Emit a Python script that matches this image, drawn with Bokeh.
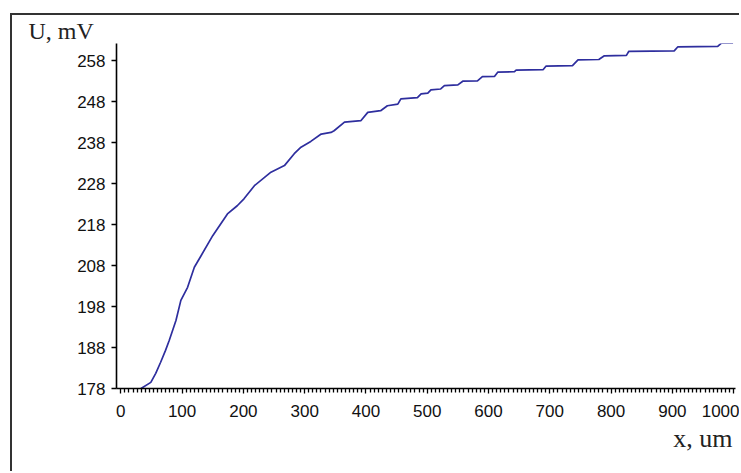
from bokeh.plotting import figure
from bokeh.models import FixedTicker, Range1d, Title
from bokeh.embed import file_html
from bokeh.resources import INLINE

x_um = [33, 49, 57, 65, 73, 79, 90, 98, 109, 120, 131, 150, 174, 190, 201, 218, 245, 267,
        283, 294, 310, 327, 343, 348, 365, 392, 403, 424, 435, 452, 457, 484, 490, 501, 506,
        522, 528, 550, 558, 582, 590, 610, 615, 642, 645, 689, 694, 737, 746, 780, 789, 825,
        829, 903, 909, 974, 980, 999]
u_mv = [178.0, 179.5, 181.7, 184.4, 187.3, 189.7, 194.6, 199.5, 202.7, 207.6, 210.4, 215.3,
        220.6, 222.6, 224.3, 227.5, 230.8, 232.4, 235.3, 236.9, 238.3, 240.1, 240.5, 240.9,
        243.0, 243.4, 245.4, 245.8, 247.0, 247.4, 248.7, 249.0, 249.9, 250.1, 250.9, 251.1,
        251.9, 252.1, 253.0, 253.1, 254.1, 254.2, 255.2, 255.3, 255.7, 255.8, 256.7, 256.8,
        258.2, 258.3, 259.2, 259.3, 260.3, 260.4, 261.4, 261.5, 262.3, 262.3]

y_ticks = [178, 188, 198, 208, 218, 228, 238, 248, 258]
x_ticks = [0, 100, 200, 300, 400, 500, 600, 700, 800, 900, 1000]
x_minor_per_major = 15

p = figure(width=729, height=458, output_backend="svg", toolbar_location=None,
           x_range=Range1d(-7, 1003), y_range=Range1d(178, 262.2),
           min_border_left=104, min_border_top=28, min_border_right=6, min_border_bottom=85)
p.margin = (13, 0, 0, 10)
p.styles = {"border-top": "2px solid #333333", "border-left": "2px solid #333333"}
p.outline_line_color = None
p.grid.visible = False
p.background_fill_color = "white"
p.border_fill_color = "white"

p.line(x_um, u_mv, line_color="#2e2e9e", line_width=1.7)

minor = []
for i in range(len(x_ticks) - 1):
    step = (x_ticks[i + 1] - x_ticks[i]) / x_minor_per_major
    for k in range(1, x_minor_per_major):
        minor.append(x_ticks[i] + k * step)

p.xaxis.ticker = FixedTicker(ticks=x_ticks, minor_ticks=minor)
p.yaxis.ticker = FixedTicker(ticks=y_ticks)

for ax in (p.xaxis[0], p.yaxis[0]):
    ax.axis_line_color = "black"
    ax.axis_line_width = 1.6
    ax.major_tick_line_color = "black"
    ax.major_tick_line_width = 1.3
    ax.minor_tick_line_color = "black"
    ax.minor_tick_line_width = 1.3
    ax.major_tick_in = 0
    ax.major_tick_out = 5
    ax.minor_tick_in = 0
    ax.major_label_text_font = "Liberation Sans"
    ax.major_label_text_font_size = "17px"
    ax.major_label_text_color = "#111111"

p.xaxis.minor_tick_out = 4
p.xaxis.major_label_standoff = 11
p.yaxis.minor_tick_out = 0
p.yaxis.major_label_standoff = 6

p.title.text = "U, mV"
p.title.align = "left"
p.title.offset = -88
p.title.standoff = 0
p.title.text_font = "Liberation Serif"
p.title.text_font_size = "24px"
p.title.text_font_style = "normal"
p.title.text_color = "#222222"

xlab = Title(text="x, um", align="right", offset=3, standoff=4,
             text_font="Liberation Serif", text_font_size="26px",
             text_font_style="normal", text_color="#222222")
p.add_layout(xlab, "below")

open("out.html", "w").write(file_html(p, INLINE))
